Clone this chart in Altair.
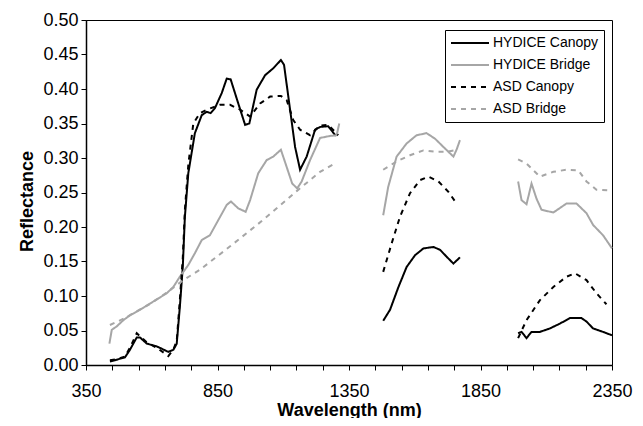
import altair as alt
import pandas as pd

# ---- data ----
SERIES = ["HYDICE Canopy", "HYDICE Bridge", "ASD Canopy", "ASD Bridge"]
COLORS = ["#000000", "#a6a6a6", "#000000", "#a6a6a6"]
DASHES = [[1, 0], [1, 0], [5, 5], [5, 5]]

HYDICE_CANOPY_WL = [441, 460, 498, 517, 543, 555, 581, 619, 663, 682, 695, 707, 718, 726, 739, 764, 790, 809, 824, 840,
                    866, 885, 900, 929, 955, 971, 999, 1031, 1062, 1091, 1103, 1126, 1145, 1164, 1189, 1221, 1240, 1271, 1300,
                    1480, 1506, 1538, 1569, 1601, 1633, 1671, 1696, 1721, 1747, 1772,
                    1993, 2006, 2025, 2044, 2076, 2114, 2152, 2190, 2234, 2253, 2278, 2316, 2350]
HYDICE_CANOPY_R = [0.005, 0.007, 0.011, 0.022, 0.040, 0.040, 0.031, 0.027, 0.019, 0.022, 0.031, 0.085, 0.142, 0.215, 0.278,
                   0.336, 0.362, 0.367, 0.365, 0.372, 0.394, 0.415, 0.414, 0.379, 0.348, 0.350, 0.399, 0.420, 0.430, 0.442,
                   0.435, 0.370, 0.316, 0.283, 0.302, 0.341, 0.345, 0.346, 0.332,
                   0.064, 0.080, 0.113, 0.142, 0.159, 0.169, 0.171, 0.167, 0.157, 0.147, 0.156,
                   0.046, 0.048, 0.039, 0.048, 0.048, 0.053, 0.060, 0.068, 0.068, 0.063, 0.053, 0.048, 0.043]

HYDICE_BRIDGE_WL = [439, 448, 467, 492, 517, 555, 606, 657, 682, 707, 739, 764, 790, 821, 853, 885, 901, 929, 957, 974,
                    1005, 1037, 1062, 1091, 1113, 1134, 1153, 1170, 1202, 1240, 1278, 1303, 1313,
                    1480, 1499, 1531, 1569, 1607, 1645, 1677, 1709, 1747, 1759, 1772,
                    1993, 2006, 2025, 2044, 2063, 2082, 2127, 2177, 2215, 2253, 2278, 2316, 2350]
HYDICE_BRIDGE_R = [0.031, 0.051, 0.056, 0.065, 0.072, 0.080, 0.092, 0.104, 0.113, 0.128, 0.145, 0.162, 0.181, 0.188, 0.210,
                   0.232, 0.237, 0.227, 0.222, 0.239, 0.278, 0.297, 0.302, 0.312, 0.287, 0.263, 0.256, 0.266, 0.297, 0.329,
                   0.332, 0.333, 0.350,
                   0.217, 0.258, 0.302, 0.321, 0.333, 0.336, 0.328, 0.316, 0.302, 0.312, 0.326,
                   0.266, 0.239, 0.233, 0.263, 0.241, 0.225, 0.221, 0.234, 0.234, 0.220, 0.203, 0.188, 0.169]

ASD_CANOPY_WL = [441, 460, 498, 517, 543, 560, 581, 619, 663, 682, 695, 707, 718, 726, 739, 758, 783, 809, 859, 898,
                 936, 974, 1012, 1050, 1091, 1113, 1138, 1164, 1202, 1240, 1271, 1297, 1309,
                 1480, 1512, 1544, 1582, 1620, 1652, 1690, 1728, 1759,
                 1993, 2025, 2076, 2127, 2177, 2209, 2253, 2291, 2329]
ASD_CANOPY_R = [0.007, 0.008, 0.012, 0.025, 0.046, 0.040, 0.033, 0.025, 0.013, 0.022, 0.035, 0.095, 0.155, 0.225, 0.290,
                0.350, 0.365, 0.370, 0.377, 0.377, 0.370, 0.360, 0.379, 0.389, 0.390, 0.384, 0.355, 0.341, 0.333, 0.347,
                0.348, 0.338, 0.333,
                0.135, 0.176, 0.215, 0.249, 0.268, 0.273, 0.266, 0.251, 0.234,
                0.039, 0.065, 0.094, 0.113, 0.128, 0.133, 0.123, 0.104, 0.088]

ASD_BRIDGE_WL = [441, 498, 600, 657, 720, 783, 898, 1000, 1081, 1151, 1240, 1300,
                 1480, 1531, 1582, 1633, 1683, 1721, 1766,
                 1993, 2025, 2076, 2127, 2177, 2222, 2253, 2291, 2342]
ASD_BRIDGE_R = [0.058, 0.068, 0.090, 0.105, 0.123, 0.138, 0.172, 0.203, 0.229, 0.252, 0.280, 0.293,
                0.283, 0.295, 0.304, 0.311, 0.309, 0.309, 0.312,
                0.298, 0.292, 0.273, 0.280, 0.283, 0.282, 0.266, 0.254, 0.253]

X_TICKS = list(range(350, 2351, 100))
Y_TICKS = [0.0, 0.05, 0.10, 0.15, 0.20, 0.25, 0.30, 0.35, 0.40, 0.45, 0.50]

# ---- build table (segments split where the absorption-band gaps are) ----
rows = []
for name, wl, r in [(SERIES[0], HYDICE_CANOPY_WL, HYDICE_CANOPY_R),
                    (SERIES[1], HYDICE_BRIDGE_WL, HYDICE_BRIDGE_R),
                    (SERIES[2], ASD_CANOPY_WL, ASD_CANOPY_R),
                    (SERIES[3], ASD_BRIDGE_WL, ASD_BRIDGE_R)]:
    seg = 0
    prev = None
    for w, v in zip(wl, r):
        if prev is not None and w - prev > 150:
            seg += 1
        rows.append({"series": name, "seg": f"{name}-{seg}", "wl": w, "r": v})
        prev = w
df = pd.DataFrame(rows)

FONT = "Liberation Sans"

legend = alt.Legend(title=None, orient="none", legendX=359, legendY=10,
                    symbolType="stroke", symbolSize=1444, symbolStrokeWidth=2,
                    clipHeight=16,
                    labelFontSize=14, labelFont=FONT, labelColor="#000000",
                    labelOffset=3, rowPadding=6, padding=5,
                    strokeColor="#000000", fillColor="#ffffff")

chart = alt.Chart(df).mark_line(strokeWidth=2).encode(
    x=alt.X("wl:Q", scale=alt.Scale(domain=[350, 2350], nice=False, zero=False),
            axis=alt.Axis(title="Wavelength (nm)", values=X_TICKS, format="d",
                          labelExpr="(datum.value - 350) % 500 == 0 ? datum.label : ''",
                          labelFlush=False, labelOverlap=False,
                          labelBaseline="alphabetic", labelPadding=26,
                          titleX=263, titleY=50, titleBaseline="alphabetic")),
    y=alt.Y("r:Q", scale=alt.Scale(domain=[0, 0.5], nice=False),
            axis=alt.Axis(title="Reflectance", values=Y_TICKS, format=".2f",
                          labelPadding=3, titleX=-54, titleY=181,
                          titleBaseline="alphabetic", titleAngle=-90)),
    color=alt.Color("series:N", scale=alt.Scale(domain=SERIES, range=COLORS), legend=legend),
    strokeDash=alt.StrokeDash("series:N", scale=alt.Scale(domain=SERIES, range=DASHES), legend=legend),
    detail="seg:N",
    order=alt.Order("wl:Q"),
).properties(
    width=526, height=345,
    autosize=alt.AutoSizeParams(type="none"),
    padding={"left": 78, "top": 12, "right": 23, "bottom": 53},
).configure_view(
    stroke="#000000", strokeWidth=1
).configure_axis(
    grid=False, domainColor="#000000", domainWidth=1.5, tickColor="#000000", tickSize=5, tickWidth=1,
    labelFont=FONT, labelFontSize=18, labelColor="#000000",
    titleFont=FONT, titleFontSize=18, titleFontWeight="bold", titleColor="#000000",
)

chart.save("out.html", embed_options={"renderer": "svg", "actions": False})
